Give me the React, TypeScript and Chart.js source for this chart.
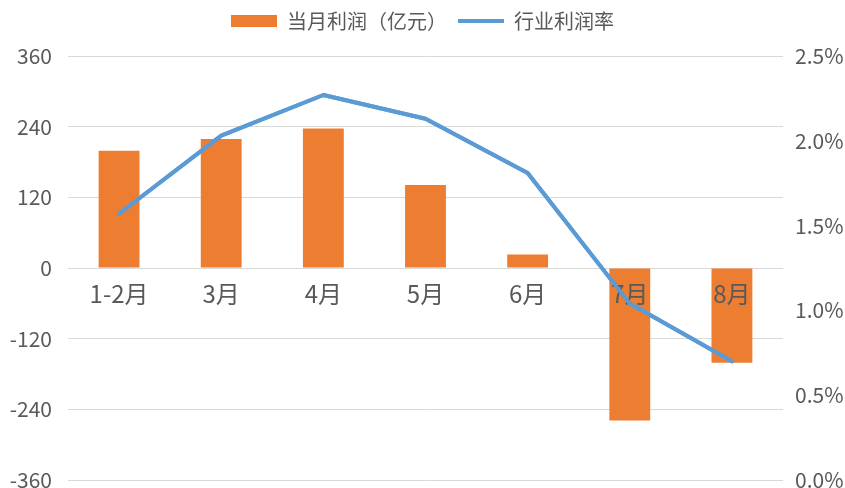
import React, { useEffect, useRef } from "react";
import { Chart, registerables } from "chart.js";

Chart.register(...registerables);

const categories = ["1-2月", "3月", "4月", "5月", "6月", "7月", "8月"];
const monthlyProfit = [199, 219, 237, 141, 23, -259, -161];
const profitRate = [1.57, 2.03, 2.27, 2.13, 1.81, 1.04, 0.7];
const leftTicks = [-360, -240, -120, 0, 120, 240, 360];
const rightTicks = [0, 0.5, 1, 1.5, 2, 2.5];
const seriesNames = ["当月利润（亿元）", "行业利润率"];

const FONT = '"Microsoft YaHei", "Noto Sans CJK SC", sans-serif';
const TEXT = "#595959";

// keep the legend pinned to the top edge while the plot area starts lower
const legendToTop = {
  id: "legendToTop",
  afterLayout(chart: any) {
    const l = chart.legend;
    if (!l) return;
    const shift = l.top;
    l.top -= shift;
    l.bottom -= shift;
  },
};

// category labels sit above the bars; the rate line stays on top of everything
const lineOnTop = {
  id: "lineOnTop",
  afterDraw(chart: any) {
    const meta = chart.getDatasetMeta(1);
    if (meta && meta.controller) meta.controller.draw();
  },
};

export default function App() {
  const ref = useRef<HTMLCanvasElement>(null);

  useEffect(() => {
    const chart = new Chart(ref.current!, {
      type: "bar",
      data: {
        labels: categories,
        datasets: [
          {
            type: "bar",
            label: seriesNames[0],
            data: monthlyProfit,
            backgroundColor: "#ED7D31",
            borderWidth: 0,
            yAxisID: "y",
            order: 1,
            barPercentage: 0.4,
            categoryPercentage: 1,
            pointStyle: "rect",
          } as any,
          {
            type: "line",
            label: seriesNames[1],
            data: profitRate,
            borderColor: "#5B9BD5",
            backgroundColor: "#5B9BD5",
            borderWidth: 4,
            borderCapStyle: "round",
            borderJoinStyle: "round",
            pointRadius: 0,
            pointHoverRadius: 0,
            tension: 0,
            yAxisID: "y1",
            order: 0,
            pointStyle: "line",
          } as any,
        ],
      },
      plugins: [legendToTop, lineOnTop],
      options: {
        responsive: false,
        animation: false,
        layout: { padding: 0 },
        plugins: {
          tooltip: { enabled: false },
          legend: {
            position: "top",
            labels: {
              usePointStyle: true,
              pointStyleWidth: 46,
              boxHeight: 12,
              padding: 11,
              color: TEXT,
              font: { size: 20, family: FONT },
              sort: (a: any, b: any) => a.datasetIndex - b.datasetIndex,
            },
          },
        },
        scales: {
          x: {
            type: "category",
            position: { y: 0 } as any,
            offset: true,
            grid: { display: false, drawTicks: false },
            border: { display: false },
            ticks: {
              z: 1,
              color: TEXT,
              padding: 11,
              font: { size: 24, family: FONT },
              maxRotation: 0,
              autoSkip: false,
            },
          },
          y: {
            position: "left",
            min: -360,
            max: 360,
            afterBuildTicks: (s: any) => {
              s.ticks = leftTicks.map((v) => ({ value: v }));
            },
            afterFit: (s: any) => {
              s.width = 68;
              s.paddingTop = 56;
              s.paddingBottom = 8;
            },
            grid: { color: "#D9D9D9", lineWidth: 1, drawTicks: false },
            border: { display: false },
            ticks: {
              color: TEXT,
              padding: 16,
              font: { size: 21, family: FONT },
            },
          },
          y1: {
            position: "right",
            min: 0,
            max: 2.5,
            afterBuildTicks: (s: any) => {
              s.ticks = rightTicks.map((v) => ({ value: v }));
            },
            afterFit: (s: any) => {
              s.width = 62;
              s.paddingTop = 56;
              s.paddingBottom = 8;
            },
            grid: { display: false, drawTicks: false },
            border: { display: false },
            ticks: {
              color: TEXT,
              padding: 12,
              font: { size: 21, family: FONT },
              callback: (v: any) => Number(v).toFixed(1) + "%",
            },
          },
        },
      } as any,
    });
    return () => chart.destroy();
  }, []);

  return (
    <div style={{ position: "fixed", left: 0, top: 0, width: 845, height: 488, background: "#fff" }}>
      <canvas ref={ref} width={845} height={488} style={{ width: 845, height: 488 }} />
    </div>
  );
}
